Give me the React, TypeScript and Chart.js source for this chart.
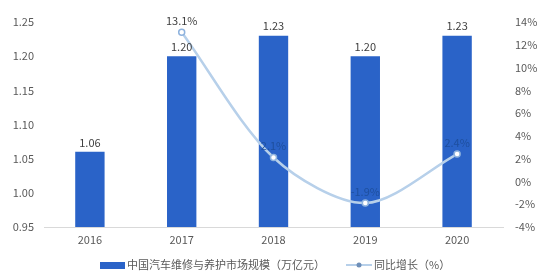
import React, { useEffect, useRef } from "react";
import { Chart, registerables } from "chart.js";

Chart.register(...registerables);

const categories = ["2016", "2017", "2018", "2019", "2020"];
const marketSize = [1.06, 1.2, 1.23, 1.2, 1.23];
const growth: (number | null)[] = [null, 13.1, 2.1, -1.9, 2.4];
const barLabels = ["1.06", "1.20", "1.23", "1.20", "1.23"];
const growthLabels = ["", "13.1%", "2.1%", "-1.9%", "2.4%"];
const barName = "中国汽车维修与养护市场规模（万亿元）";
const lineName = "同比增长（%）";

const BAR_COLOR = "#2a63c8";
const LINE_COLOR = "#b7d0ea";
const TEXT = "#595959";
const FONT = "'Noto Sans CJK SC', 'Open Sans', sans-serif";

const labelPlugin = {
  id: "labels",
  afterDatasetsDraw(chart: any) {
    const ctx = chart.ctx;
    ctx.save();
    ctx.font = `11px ${FONT}`;
    ctx.textAlign = "center";
    ctx.textBaseline = "bottom";
    const barMeta = chart.getDatasetMeta(1);
    barMeta.data.forEach((el: any, i: number) => {
      ctx.fillStyle = "#404040";
      ctx.fillText(barLabels[i], el.x, el.y - 4);
    });
    const lineMeta = chart.getDatasetMeta(0);
    lineMeta.data.forEach((el: any, i: number) => {
      if (growth[i] == null) return;
      ctx.fillStyle = i === 1 ? "#404040" : "#1e4f9e";
      ctx.fillText(growthLabels[i], el.x, el.y - 6);
    });
    ctx.restore();
  },
  afterDraw(chart: any) {
    const ctx = chart.ctx;
    ctx.save();
    const y = 265;
    ctx.font = `11px ${FONT}`;
    ctx.textBaseline = "middle";
    ctx.textAlign = "left";
    ctx.fillStyle = BAR_COLOR;
    ctx.fillRect(100, y - 3, 25, 7);
    ctx.fillStyle = TEXT;
    ctx.fillText(barName, 127, y);
    ctx.strokeStyle = LINE_COLOR;
    ctx.lineWidth = 2;
    ctx.beginPath();
    ctx.moveTo(346, y);
    ctx.lineTo(372, y);
    ctx.stroke();
    ctx.beginPath();
    ctx.arc(359, y, 2.5, 0, Math.PI * 2);
    ctx.fillStyle = "#6f8fb8";
    ctx.fill();
    ctx.fillStyle = TEXT;
    ctx.fillText(lineName, 374, y);
    ctx.restore();
  },
};

export default function App() {
  const ref = useRef<HTMLCanvasElement>(null);
  useEffect(() => {
    document.body.style.margin = "0";
    const chart = new Chart(ref.current!, {
      type: "bar",
      data: {
        labels: categories,
        datasets: [
          {
            type: "line",
            label: lineName,
            data: growth,
            yAxisID: "y1",
            borderColor: LINE_COLOR,
            borderWidth: 2.5,
            pointRadius: 3,
            pointBackgroundColor: "#ffffff",
            pointBorderColor: "#8fb3de",
            pointBorderWidth: 1.5,
            tension: 0.3,
            order: 0,
          } as any,
          {
            type: "bar",
            label: barName,
            data: marketSize,
            yAxisID: "y",
            backgroundColor: BAR_COLOR,
            barPercentage: 0.8,
            categoryPercentage: 0.4,
            order: 1,
          },
        ],
      },
      options: {
        animation: false,
        responsive: false,
        layout: { padding: { top: 22, bottom: 32, left: 0, right: 0 } },
        plugins: { legend: { display: false }, tooltip: { enabled: false } },
        scales: {
          x: {
            grid: { display: false, drawTicks: false },
            border: { color: "#d9d9d9" },
            ticks: { color: TEXT, font: { size: 11, family: FONT }, padding: 6 },
            afterFit(s: any) { s.height = 20; },
          },
          y: {
            position: "left",
            min: 0.95,
            max: 1.25,
            grid: { display: false, drawTicks: false },
            border: { display: false },
            ticks: {
              stepSize: 0.05,
              color: TEXT,
              font: { size: 11, family: FONT },
              padding: 10,
              callback: (v: any) => Number(v).toFixed(2),
            },
            afterFit(s: any) { s.width = 44; },
          },
          y1: {
            position: "right",
            min: -4,
            max: 14,
            grid: { display: false, drawTicks: false },
            border: { display: false },
            ticks: {
              stepSize: 2,
              color: TEXT,
              font: { size: 11, family: FONT },
              padding: 12,
              callback: (v: any) => `${v}%`,
            },
            afterFit(s: any) { s.width = 43; },
          },
        },
      },
      plugins: [labelPlugin],
    });
    return () => chart.destroy();
  }, []);
  return <canvas ref={ref} width={546} height={279} style={{ display: "block" }} />;
}
